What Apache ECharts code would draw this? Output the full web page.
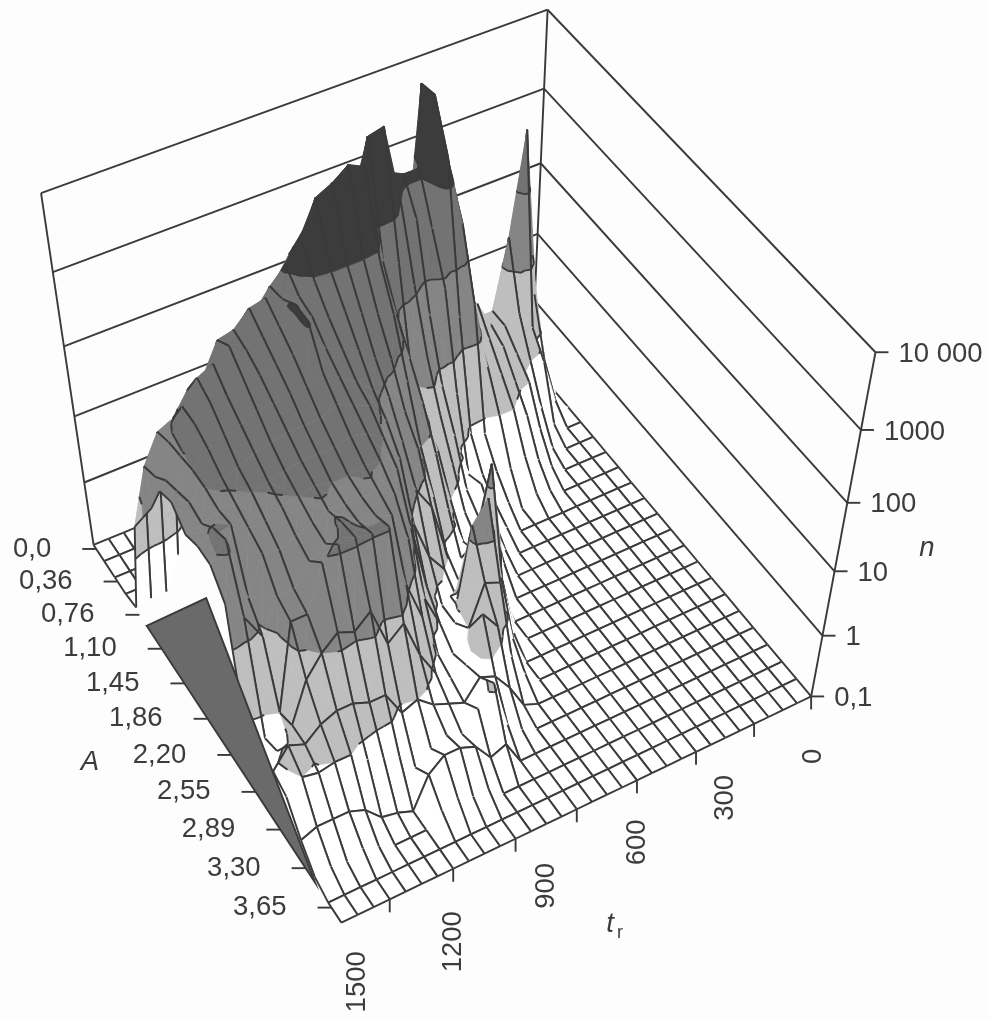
<!DOCTYPE html>
<html><head><meta charset="utf-8">
<style>html,body{margin:0;padding:0;background:#fdfdfd}#c{width:989px;height:1020px}</style>
<script src="https://cdn.jsdelivr.net/npm/echarts@6/dist/echarts.min.js"></script>
</head><body><div id="c"></div>
<script>
// ---- tick labels ----
const aLabels = ['0,0','0,36','0,76','1,10','1,45','1,86','2,20','2,55','2,89','3,30','3,65'];
const trLabels = ['0','300','600','900','1200','1500'];
const nLabels = ['0,1','1','10','100','1000','10 000'];
// ---- series values: height above n = 0.1, in decades (lg n + 1). One array per t_r step, index = A step (missing = floor) ----
const heights = [
/*t0*/ [],
/*t1*/ [0,1.4,.6,.2],
/*t2*/ [.6,3.8,1.2,.9,.15],
/*t3*/ [.7,2.4,1.5,1,.5,.1],
/*t4*/ [.7,1.4,1.4,1.2,1,.5,.15],
/*t5*/ [.8,1.4,1.5,1.4,1.1,.8,.35,.1],
/*t6*/ [.9,1.6,1.9,1.6,1.3,1,.5,.15],
/*t7*/ [1,1.8,2.1,1.9,1.5,1,.4],
/*t8*/ [1.5,3.1,3.9,3.4,2.5,.8,.45,.2],
/*t9*/ [1.2,4.9,4.95,4.35,2.4,.9,.5,.3,.15],
/*t10*/[1,2.9,4.1,3.5,2.9,1.6,.6,.7,.4,.15],
/*t11*/[1,2.8,4.1,3.7,2.6,1.8,1.3,.7,.5,.7,.3],
/*t12*/[1,2.9,4.2,4,3.1,2.3,1.7,1.2,.7,.5,.6,.2],
/*t13*/[1,3,4.4,5.05,3.5,2,1.7,1.5,1,.6,.7,2.3,.8,.2],
/*t14*/[1,2.8,4,5,3.6,3.1,2.7,2.3,1.8,1.2,.7,1.2,1.75,1.2,.5,.2],
/*t15*/[.9,2.6,3.8,4.2,4.9,3.9,3.4,2.7,2,1.5,.9,.7,.9,2.5,1.5,.6,.1],
/*t16*/[.8,2.3,3.6,4.4,5,4,3.5,3.1,2.6,2.3,1.7,1,.8,2.2,1.6,1.2,.5,.1],
/*t17*/[.7,2.1,3.4,4.3,4.85,4,3.6,3.2,2.9,2.5,2.05,1.3,.8,.8,1,1.5,.8,.3],
/*t18*/[.6,2,3.2,4.1,4.75,4,3.7,3.4,3.1,2.9,2.6,1.9,1.2,.9,.7,.8,.9,1.1,.4],
/*t19*/[.5,1.8,3,3.9,4.3,3.95,3.7,3.5,3.3,3.2,3,2.8,2.2,1.4,.8,.7,.6,.8,.3],
/*t20*/[.4,1.5,2.7,3.6,4.05,3.85,3.8,3.6,3.45,3.3,3.15,3,2.8,2.4,1.5,.9,.7,.5,.6,.2],
/*t21*/[.3,1.2,2.4,3.3,3.85,3.9,4.05,4.05,3.6,3.4,3.2,3.05,2.95,2.85,2.1,1.3,.8,.6,.7,.2],
/*t22*/[.2,.9,2.1,3,3.6,4,3.85,3.7,3.5,3.3,3.15,3,2.95,2.95,3.05,1.9,1,.5,.7,.3],
/*t23*/[.1,.6,1.7,2.7,3.5,3.95,3.8,3.65,3.5,3.3,3.15,3,2.95,2.95,3.05,1.7,.9,.3,.5,.2],
/*t24*/[0,.3,1.2,2.2,3.3,3.75,3.7,3.6,3.45,3.3,3.15,3.05,2.95,3.05,3.1,2.3,1.3,.6],
/*t25*/[0,.1,.8,1.9,2.9,3.7,3.85,3.65,3.45,3.25,3.1,3,2.9,2.85,3.1,2.1,1.3,.7,.1],
/*t26*/[0,0,.4,1.3,2.5,3.3,3.7,3.5,3.35,3.2,3.05,2.95,2.8,2.7,2.95,2.2,1.4,.8,.15],
/*t27*/[0,0,.1,.7,1.6,3.2,3.6,3.5,3.3,3.1,3,2.85,2.7,2.4,2.3,2,1.4,1,.4,.1],
/*t28*/[0,0,0,.3,.6,2.9,3.3,3.3,3.2,3.05,2.95,2.85,2.75,2.4,2.3,1.7,1.3,1,.5,.2],
/*t29*/[0,0,0,0,.1,2.8,2.9,2.95,3,3,2.95,3,2.2,1.9,1,1.1,1.1,.95,.5,.1],
/*t30*/[0,0,0,0,.1,2.4,2.5,2.7,2.8,2.9,2.85,3.05,3.15,2.3,.7,.8,1.2,1,.5,.15],
/*t31*/[0,0,0,0,.05,1.6,2,2.4,2.9,3,2.8,2.9,2.9,2.6,.5,.5,.9,.8,.4,.1]
];
const wedge = [[4.9,31,0],[4.8,27,0],[19,31,0]];   // flat dark face on the floor plane [A step, t step, height]
const frontRows = [16,18];
// ---- layout / style ----
const nA = 21, nT = 31, nH = 5;
const calib = [[0,nT,0,93,543],[0,0,0,532,364],[nA,0,0,810,698],[nA,nT,0,343,923],[0,nT,nH,40,195],[0,0,nH,549,10],[nA,0,nH,875,350]];
const trLabelDy = [60,60,62,62,73,67];
const bandColors = ['#ffffff','#bebebe','#858585','#737373','#3c3c3c'];
const ink = '#3a3a3a', txt = '#3c3c3c';
const font = '27.5px "Liberation Sans",Arial,sans-serif', fontI = 'italic 27.5px "Liberation Sans",Arial,sans-serif';

// projective camera fitted to the box corners
function solve(M,b){const n=b.length;M=M.map((r,i)=>[...r,b[i]]);
  for(let i=0;i<n;i++){let p=i;for(let k=i+1;k<n;k++)if(Math.abs(M[k][i])>Math.abs(M[p][i]))p=k;[M[i],M[p]]=[M[p],M[i]];
    for(let k=0;k<n;k++)if(k!==i){const f=M[k][i]/M[i][i];for(let j=i;j<=n;j++)M[k][j]-=f*M[i][j];}}
  return M.map((r,i)=>r[n]/r[i]);}
const rowsA=[],rowsB=[];
calib.forEach(([a,t,h,x,y])=>{rowsA.push([a,t,h,1,0,0,0,0,-x*a,-x*t,-x*h]);rowsB.push(x);rowsA.push([0,0,0,0,a,t,h,1,-y*a,-y*t,-y*h]);rowsB.push(y);});
const NN=[],Nb=[];for(let i=0;i<11;i++){NN.push([]);let s=0;for(let j=0;j<11;j++){let q=0;rowsA.forEach(r=>q+=r[i]*r[j]);NN[i].push(q+(i===j?1e-9:0));}rowsA.forEach((r,k)=>s+=r[i]*rowsB[k]);Nb.push(s);}
const P=solve(NN,Nb);
function pr(a,t,h){const w=P[8]*a+P[9]*t+P[10]*h+1;return [(P[0]*a+P[1]*t+P[2]*h+P[3])/w,(P[4]*a+P[5]*t+P[6]*h+P[7])/w];}
const H=(a,t)=>heights[t][a]||0;

function clip(poly,lo,hi){
  const cut=(pl,keep,val)=>{const o=[];pl.forEach((p,i)=>{const q=pl[(i+1)%pl.length];const pi=keep(p[2]),qi=keep(q[2]);
    if(pi)o.push(p);if(pi!==qi){const f=(val-p[2])/(q[2]-p[2]);o.push([p[0]+f*(q[0]-p[0]),p[1]+f*(q[1]-p[1]),val]);}});return o;};
  let r=poly;if(lo>0)r=cut(r,h=>h>=lo,lo);if(r.length&&hi<nH+1)r=cut(r,h=>h<=hi,hi);return r;}
function levelSeg(tri,L){const o=[];tri.forEach((p,i)=>{const q=tri[(i+1)%3];if((p[2]-L)*(q[2]-L)<0){const f=(L-p[2])/(q[2]-p[2]);o.push([p[0]+f*(q[0]-p[0]),p[1]+f*(q[1]-p[1]),L]);}});return o.length===2?o:null;}

const cells=[];for(let a=0;a<nA;a++)for(let t=0;t<nT;t++)cells.push([a,t]);
const LW=1.9;
function cellItem(params,api){
  const a=api.value(0),t=api.value(1);
  const c=p=>api.coord(pr(p[0],p[1],p[2]));
  const q=[[a,t,H(a,t)],[a+1,t,H(a+1,t)],[a+1,t+1,H(a+1,t+1)],[a,t+1,H(a,t+1)]];
  const ch=[];
  const mx=Math.max(q[0][2],q[1][2],q[2][2],q[3][2]),mn=Math.min(q[0][2],q[1][2],q[2][2],q[3][2]);
  const poly=(pts,col)=>ch.push({type:'polygon',shape:{points:pts.map(c)},style:{fill:col,stroke:col,lineWidth:.6},silent:true});
  const seg=(p,r,w)=>ch.push({type:'line',shape:{x1:c(p)[0],y1:c(p)[1],x2:c(r)[0],y2:c(r)[1]},style:{stroke:ink,lineWidth:w},silent:true});
  if(Math.floor(Math.min(mx,4.999))===Math.floor(Math.min(mn,4.999))){poly(q,bandColors[Math.floor(Math.min(mx,4.999))]);}
  else{
    const ctr=[a+.5,t+.5,(q[0][2]+q[1][2]+q[2][2]+q[3][2])/4];
    for(let i=0;i<4;i++){const tri=[q[i],q[(i+1)%4],ctr];
      for(let b=0;b<5;b++){const pl=clip(tri,b,b===4?nH+1:b+1);if(pl.length>=3)poly(pl,bandColors[b]);}
    }
    for(let i=0;i<4;i++){const tri=[q[i],q[(i+1)%4],ctr];
      for(let L=1;L<5;L++){const s=levelSeg(tri,L);if(s)seg(s[0],s[1],LW);}
    }
  }
  // mesh lines along A are always drawn; lines along t_r on the floor, in the front 10-100 band and on a few front rows
  seg(q[0],q[1],LW);seg(q[3],q[2],LW);
  const rowLine=(p,r,row)=>{
    const lo=Math.min(p[2],r[2]),hi=Math.max(p[2],r[2]);
    if(hi<.02||(row>=10&&lo>=.9&&hi<2.4)||frontRows.indexOf(row)>=0)seg(p,r,LW);};
  rowLine(q[0],q[3],a);rowLine(q[1],q[2],a+1);
  return {type:'group',children:ch};
}

// walls, ticks and texts
const wallSegs=[];
for(let k=1;k<=nH;k++){wallSegs.push([0,nT,k,0,0,k]);wallSegs.push([0,0,k,nA,0,k]);}
wallSegs.push([0,nT,0,0,nT,nH]);wallSegs.push([0,0,0,0,0,nH]);wallSegs.push([nA,0,0,nA,0,nH]);
function wallItem(params,api){
  const p=api.coord(pr(api.value(0),api.value(1),api.value(2))),q=api.coord(pr(api.value(3),api.value(4),api.value(5)));
  return {type:'line',shape:{x1:p[0],y1:p[1],x2:q[0],y2:q[1]},style:{stroke:ink,lineWidth:LW},silent:true};
}
const tickData=[];
aLabels.forEach((s,i)=>tickData.push({value:[i*2+.25,nT,0],kind:'a',s}));
for(let i=0;i*4<=28;i++)tickData.push({value:[nA,i*4,0],kind:'tt'});
trLabels.forEach((s,i)=>tickData.push({value:[nA,i*6,0],kind:'tl',s,dy:trLabelDy[i]}));
nLabels.forEach((s,i)=>tickData.push({value:[nA,0,i],kind:'n',s}));
function tickItem(params,api){
  const d=tickData[params.dataIndex],p=api.coord(pr(api.value(0),api.value(1),api.value(2)));
  const tick=(dx,dy)=>({type:'line',shape:{x1:p[0],y1:p[1],x2:p[0]+dx,y2:p[1]+dy},style:{stroke:ink,lineWidth:LW},silent:true});
  if(d.kind==='a')return {type:'group',children:[tick(-14,0),{type:'text',style:{text:d.s,x:p[0]-45,y:p[1],align:'right',verticalAlign:'middle',font,fill:txt},silent:true}]};
  if(d.kind==='tt')return tick(0,13);
  if(d.kind==='tl')return {type:'text',x:p[0]+(d.value[1]===0?2:0),y:p[1]+d.dy,rotation:Math.PI/2,style:{text:d.s,x:0,y:0,align:'center',verticalAlign:'middle',font,fill:txt},silent:true};
  return {type:'group',children:[tick(13,0),{type:'text',style:{text:d.s,x:p[0]+23,y:p[1]+2,align:'left',verticalAlign:'middle',font,fill:txt},silent:true}]};
}
const titles=[{s:'A',x:90,y:762,font:fontI},{s:'n',x:927,y:548,font:fontI},{s:'t',x:610,y:924,font:fontI},{s:'r',x:620,y:933,font:'18px "Liberation Sans",Arial,sans-serif'}];
function titleItem(params,api){const d=titles[params.dataIndex];const p=api.coord([api.value(0),api.value(1)]);
  return {type:'text',style:{text:d.s,x:p[0],y:p[1],align:'center',verticalAlign:'middle',font:d.font,fill:txt},silent:true};}
function wedgeItem(params,api){
  return {type:'polygon',shape:{points:wedge.map(w=>api.coord(pr(w[0],w[1],w[2])))},style:{fill:'#6a6a6a',stroke:ink,lineWidth:LW},silent:true};
}
const chart=echarts.init(document.getElementById('c'),null,{renderer:'canvas'});
chart.setOption({
  animation:false,backgroundColor:'#fdfdfd',
  grid:{left:0,right:0,top:0,bottom:0},
  xAxis:{type:'value',min:0,max:989,show:false},
  yAxis:{type:'value',min:0,max:1020,inverse:true,show:false},
  series:[
    {type:'custom',name:'walls',coordinateSystem:'cartesian2d',clip:false,silent:true,z:1,data:wallSegs,renderItem:wallItem},
    {type:'custom',name:'surface',coordinateSystem:'cartesian2d',clip:false,silent:true,z:2,progressive:0,data:cells,renderItem:cellItem},
    {type:'custom',name:'wedge',coordinateSystem:'cartesian2d',clip:false,silent:true,z:3,data:[[0,0]],renderItem:wedgeItem},
    {type:'custom',name:'ticks',coordinateSystem:'cartesian2d',clip:false,silent:true,z:4,data:tickData,renderItem:tickItem},
    {type:'custom',name:'titles',coordinateSystem:'cartesian2d',clip:false,silent:true,z:5,data:titles.map(d=>[d.x,d.y]),renderItem:titleItem}
  ]
});
</script></body></html>
